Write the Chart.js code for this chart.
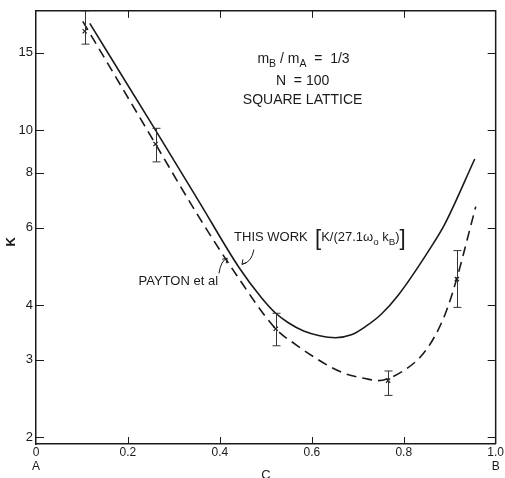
<!DOCTYPE html>
<html>
<head>
<meta charset="utf-8">
<script src="https://cdn.jsdelivr.net/npm/chart.js@4/dist/chart.umd.min.js"></script>
<style>
  html, body { margin: 0; padding: 0; background: #fff; }
  #wrap { width: 505px; height: 478px; }
</style>
</head>
<body>
<div id="wrap"><canvas id="myChart" width="505" height="478"></canvas></div>
<script>
// "this work" curve, K/(27.1 w0 kB) vs C
const cThisWork = [0.117, 0.26, 0.355, 0.4416, 0.491, 0.5216, 0.5498, 0.5823, 0.6147, 0.6515, 0.686, 0.7165, 0.751, 0.788, 0.859, 0.8896, 0.9545];
const kThisWork = [17.5, 10.0, 6.87, 4.87, 4.15, 3.83, 3.64, 3.49, 3.41, 3.37, 3.42, 3.57, 3.81, 4.21, 5.41, 6.12, 8.6];

// Payton et al curve (dashed)
const cPayton = [0.1017, 0.26, 0.355, 0.435, 0.5216, 0.565, 0.608, 0.636, 0.673, 0.716, 0.7446, 0.766, 0.803, 0.838, 0.868, 0.8896, 0.9026, 0.9156, 0.9286, 0.9437, 0.9567];
const kPayton = [17.7, 9.3, 6.33, 4.70, 3.53, 3.25, 3.03, 2.91, 2.79, 2.72, 2.69, 2.72, 2.85, 3.06, 3.40, 3.80, 4.15, 4.60, 5.16, 5.94, 6.70];

// simulation points with error bars
const cPoints = [0.106, 0.26, 0.5216, 0.766, 0.9156];
const kPoints = [16.8, 9.3, 3.53, 2.69, 4.58];
const kLow = [15.7, 8.47, 3.23, 2.49, 3.95];
const kHigh = [18.7, 10.1, 3.83, 2.83, 5.32];

// axes
const xTicks = [0, 0.2, 0.4, 0.6, 0.8, 1.0];
const xTickLabels = ['0', '0.2', '0.4', '0.6', '0.8', '1.0'];
const xTickSub = ['A', '', '', '', '', 'B'];
const yTicks = [2, 3, 4, 6, 8, 10, 15];

const ink = '#1a1a1a';
const fontFam = '"Liberation Sans", Arial, sans-serif';

function toXY(xs, ys) {
    return xs.map((x, i) => ({ x: x, y: ys[i] }));
}

// text with subscripts / big brackets
function drawRich(ctx, parts, x, y, align, size) {
    const fontFor = k => (k === 'sub' ? size * 0.75 : k === 'big' ? size * 1.7 : size) + 'px ' + fontFam;
    let w = 0;
    parts.forEach(p => { ctx.font = fontFor(p[1]); w += ctx.measureText(p[0]).width; });
    let cx = align === 'center' ? x - w / 2 : align === 'right' ? x - w : x;
    ctx.textAlign = 'left';
    ctx.textBaseline = 'alphabetic';
    parts.forEach(p => {
        ctx.font = fontFor(p[1]);
        const dy = p[1] === 'sub' ? size * 0.3 : p[1] === 'big' ? size * 0.25 : 0;
        ctx.fillText(p[0], cx, y + dy);
        cx += ctx.measureText(p[0]).width;
    });
}

const extras = {
    id: 'extras',
    afterDatasetsDraw(chart) {
        const ctx = chart.ctx;
        const xs = chart.scales.x, ys = chart.scales.y;
        const a = chart.chartArea;
        const px = v => xs.getPixelForValue(v);
        const py = v => ys.getPixelForValue(v);

        ctx.save();
        ctx.strokeStyle = ink;
        ctx.fillStyle = ink;

        // frame (top / right) and inward ticks
        ctx.lineWidth = 1.5;
        ctx.beginPath();
        ctx.moveTo(a.left, a.top); ctx.lineTo(a.right, a.top); ctx.lineTo(a.right, a.bottom);
        ctx.stroke();
        ctx.lineWidth = 1;
        ctx.beginPath();
        yTicks.forEach(v => {
            const y = Math.round(py(v)) + 0.5;
            ctx.moveTo(a.left, y); ctx.lineTo(a.left + 8, y);
            ctx.moveTo(a.right, y); ctx.lineTo(a.right - 8, y);
        });
        xTicks.slice(1, -1).forEach(v => {
            const x = Math.round(px(v)) + 0.5;
            ctx.moveTo(x, a.bottom); ctx.lineTo(x, a.bottom - 7);
            ctx.moveTo(x, a.top); ctx.lineTo(x, a.top + 7);
        });
        ctx.stroke();

        // error bars
        ctx.save();
        ctx.beginPath();
        ctx.rect(a.left, a.top, a.right - a.left, a.bottom - a.top);
        ctx.clip();
        ctx.strokeStyle = '#333';
        ctx.lineWidth = 1;
        ctx.beginPath();
        cPoints.forEach((c, i) => {
            const x = Math.round(px(c)) + 0.5;
            const yl = py(kLow[i]), yh = py(kHigh[i]);
            ctx.moveTo(x, yl); ctx.lineTo(x, yh);
            ctx.moveTo(x - 4, yl); ctx.lineTo(x + 4, yl);
            ctx.moveTo(x - 4, yh); ctx.lineTo(x + 4, yh);
        });
        ctx.stroke();
        ctx.restore();

        // info block
        drawRich(ctx, [['m', ''], ['B', 'sub'], [' / m', ''], ['A', 'sub'], ['  =  1/3', '']], px(0.582), py(14.25), 'center', 14);
        drawRich(ctx, [['N  = 100', '']], px(0.58), py(12.7), 'center', 14);
        drawRich(ctx, [['SQUARE LATTICE', '']], px(0.58), py(11.45), 'center', 14);

        // curve labels
        drawRich(ctx, [['THIS WORK  ', ''], ['[', 'big'], ['K/(27.1\u03c9', ''], ['o', 'sub'], [' k', ''], ['B', 'sub'], [')', ''], [']', 'big']],
            px(0.431), py(5.58), 'left', 13);
        drawRich(ctx, [['PAYTON et al', '']], px(0.396), py(4.44), 'right', 13);

        // little arrows from labels to curves
        ctx.lineWidth = 1;
        ctx.beginPath();
        let x0 = px(0.474), y0 = py(5.35), x1 = px(0.448), y1 = py(4.95);
        ctx.moveTo(x0, y0);
        ctx.quadraticCurveTo(x0 - 2, y1 - 2, x1, y1);
        ctx.moveTo(x1, y1); ctx.lineTo(x1 + 1, y1 - 5);
        ctx.moveTo(x1, y1); ctx.lineTo(x1 + 5, y1 - 2);
        x0 = px(0.398); y0 = py(4.72); x1 = px(0.416); y1 = py(5.11);
        ctx.moveTo(x0, y0);
        ctx.quadraticCurveTo(x0 + 2, y1 + 2, x1, y1);
        ctx.moveTo(x1, y1); ctx.lineTo(x1 - 5, y1 + 1);
        ctx.moveTo(x1, y1); ctx.lineTo(x1 - 1, y1 + 5);
        ctx.stroke();

        ctx.restore();
    }
};

document.addEventListener('DOMContentLoaded', function() {
    const ctx = document.getElementById('myChart');
    if (!ctx) return;

    new Chart(ctx, {
        type: 'scatter',
        data: {
            datasets: [{
                label: 'THIS WORK',
                data: toXY(cThisWork, kThisWork),
                showLine: true,
                borderColor: ink,
                borderWidth: 1.6,
                pointRadius: 0,
                cubicInterpolationMode: 'monotone'
            }, {
                label: 'PAYTON et al',
                data: toXY(cPayton, kPayton),
                showLine: true,
                borderColor: ink,
                borderWidth: 1.6,
                borderDash: [10, 6],
                pointRadius: 0,
                cubicInterpolationMode: 'monotone'
            }, {
                label: 'points',
                data: toXY(cPoints, kPoints),
                showLine: false,
                pointStyle: 'crossRot',
                pointRadius: 3,
                borderColor: '#222',
                borderWidth: 1.2
            }]
        },
        options: {
            responsive: false,
            animation: false,
            layout: { padding: { top: 8, right: 7, left: 0, bottom: 0 } },
            plugins: {
                legend: { display: false },
                tooltip: { enabled: false }
            },
            scales: {
                x: {
                    type: 'linear',
                    min: 0,
                    max: 1,
                    border: { color: ink, width: 1.5 },
                    grid: { display: false, drawTicks: false },
                    afterBuildTicks: s => { s.ticks = xTicks.map(v => ({ value: v })); },
                    afterFit: s => { s.height = 34; },
                    ticks: {
                        padding: 1,
                        color: ink,
                        maxRotation: 0,
                        autoSkip: false,
                        font: { family: fontFam, size: 12 },
                        callback: (v, i) => xTickSub[i] ? [xTickLabels[i], xTickSub[i]] : xTickLabels[i]
                    },
                    title: {
                        display: true,
                        text: 'C',
                        color: ink,
                        font: { family: fontFam, size: 13 },
                        padding: { top: 0, bottom: -5 }
                    }
                },
                y: {
                    type: 'logarithmic',
                    min: 1.93,
                    max: 18.7,
                    border: { color: ink, width: 1.5 },
                    grid: { display: false, drawTicks: false },
                    afterBuildTicks: s => { s.ticks = yTicks.map(v => ({ value: v })); },
                    afterFit: s => { s.width = 36; },
                    ticks: {
                        padding: 3,
                        color: ink,
                        font: { family: fontFam, size: 13 },
                        callback: v => String(v)
                    },
                    title: {
                        display: true,
                        text: 'K        ',
                        color: ink,
                        font: { family: fontFam, size: 13, weight: 'bold' },
                        padding: { top: 4, bottom: 0 }
                    }
                }
            }
        },
        plugins: [extras]
    });
});
</script>
</body>
</html>
